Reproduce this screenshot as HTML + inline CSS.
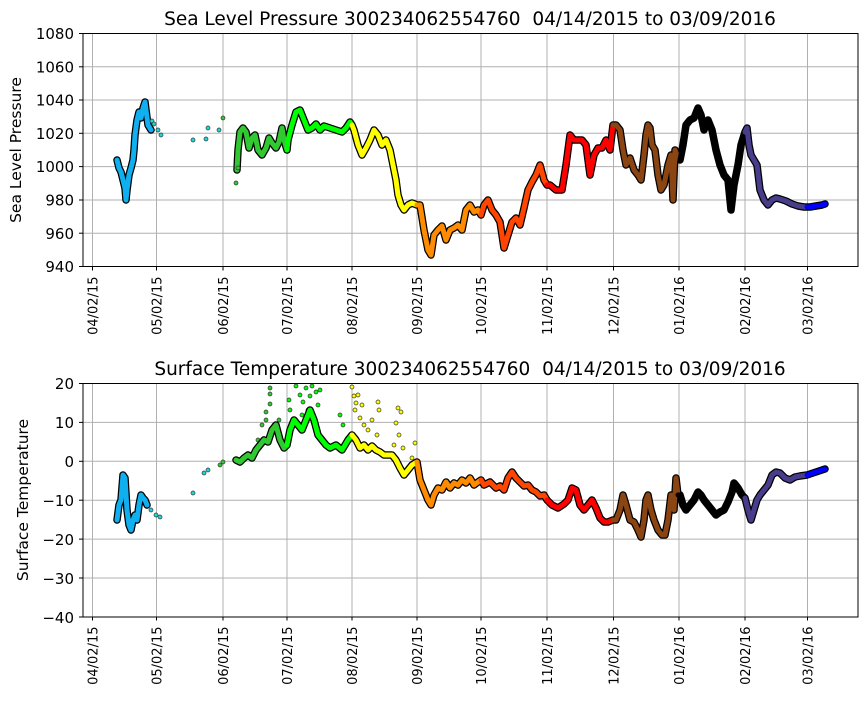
<!DOCTYPE html>
<html><head><meta charset="utf-8"><style>
html,body{margin:0;padding:0;background:#fff;}
svg text{font-family:"DejaVu Sans","Liberation Sans",sans-serif;fill:#000;}
</style></head><body>
<svg width="867" height="700" viewBox="0 0 867 700" xmlns="http://www.w3.org/2000/svg">
<defs>
<g id="vgrid" stroke="#b0b0b0" stroke-width="1">
<line x1="92.5" x2="92.5" y1="0" y2="233"/><line x1="156.5" x2="156.5" y1="0" y2="233"/><line x1="223" x2="223" y1="0" y2="233"/><line x1="287" x2="287" y1="0" y2="233"/><line x1="352" x2="352" y1="0" y2="233"/><line x1="417" x2="417" y1="0" y2="233"/><line x1="481" x2="481" y1="0" y2="233"/><line x1="547" x2="547" y1="0" y2="233"/><line x1="613.5" x2="613.5" y1="0" y2="233"/><line x1="679" x2="679" y1="0" y2="233"/><line x1="745" x2="745" y1="0" y2="233"/><line x1="807.5" x2="807.5" y1="0" y2="233"/>
</g>
<g id="xt" font-size="13">
<g stroke="#000"><line x1="92.5" x2="92.5" y1="233" y2="237"/><line x1="156.5" x2="156.5" y1="233" y2="237"/><line x1="223" x2="223" y1="233" y2="237"/><line x1="287" x2="287" y1="233" y2="237"/><line x1="352" x2="352" y1="233" y2="237"/><line x1="417" x2="417" y1="233" y2="237"/><line x1="481" x2="481" y1="233" y2="237"/><line x1="547" x2="547" y1="233" y2="237"/><line x1="613.5" x2="613.5" y1="233" y2="237"/><line x1="679" x2="679" y1="233" y2="237"/><line x1="745" x2="745" y1="233" y2="237"/><line x1="807.5" x2="807.5" y1="233" y2="237"/></g>
<text transform="translate(97.5,243) rotate(-90)" text-anchor="end">04/02/15</text>
<text transform="translate(161.5,243) rotate(-90)" text-anchor="end">05/02/15</text>
<text transform="translate(228,243) rotate(-90)" text-anchor="end">06/02/15</text>
<text transform="translate(292,243) rotate(-90)" text-anchor="end">07/02/15</text>
<text transform="translate(357,243) rotate(-90)" text-anchor="end">08/02/15</text>
<text transform="translate(422,243) rotate(-90)" text-anchor="end">09/02/15</text>
<text transform="translate(486,243) rotate(-90)" text-anchor="end">10/02/15</text>
<text transform="translate(552,243) rotate(-90)" text-anchor="end">11/02/15</text>
<text transform="translate(618.5,243) rotate(-90)" text-anchor="end">12/02/15</text>
<text transform="translate(684,243) rotate(-90)" text-anchor="end">01/02/16</text>
<text transform="translate(750,243) rotate(-90)" text-anchor="end">02/02/16</text>
<text transform="translate(812.5,243) rotate(-90)" text-anchor="end">03/02/16</text>
</g>
</defs>

<!-- TOP -->
<text x="470" y="25" font-size="18.5" text-anchor="middle">Sea Level Pressure 300234062554760&#160; 04/14/2015 to 03/09/2016</text>
<g transform="translate(0,33.5)"><use href="#vgrid"/></g>
<g stroke="#b0b0b0" stroke-width="1">
<line x1="83" x2="858" y1="66.8" y2="66.8"/><line x1="83" x2="858" y1="100" y2="100"/><line x1="83" x2="858" y1="133.3" y2="133.3"/><line x1="83" x2="858" y1="166.6" y2="166.6"/><line x1="83" x2="858" y1="200" y2="200"/><line x1="83" x2="858" y1="233.2" y2="233.2"/>
</g>
<g font-size="15" text-anchor="end">
<text x="74" y="39">1080</text><text x="74" y="72.3">1060</text><text x="74" y="105.6">1040</text><text x="74" y="138.9">1020</text><text x="74" y="172.2">1000</text><text x="74" y="205.5">980</text><text x="74" y="238.8">960</text><text x="74" y="272">940</text>
</g>
<g stroke="#000"><line x1="79" x2="83" y1="33.5" y2="33.5"/><line x1="79" x2="83" y1="66.8" y2="66.8"/><line x1="79" x2="83" y1="100" y2="100"/><line x1="79" x2="83" y1="133.3" y2="133.3"/><line x1="79" x2="83" y1="166.6" y2="166.6"/><line x1="79" x2="83" y1="200" y2="200"/><line x1="79" x2="83" y1="233.2" y2="233.2"/><line x1="79" x2="83" y1="266.5" y2="266.5"/></g>
<text transform="translate(21,150) rotate(-90)" font-size="15.5" text-anchor="middle">Sea Level Pressure</text>
<g transform="translate(0,33.5)"><use href="#xt"/></g>

<g fill="none" stroke-linejoin="round" stroke-linecap="round">
<g stroke="#000" stroke-width="7.5">
<polyline points="117,160 119,168 121,172 123,180 125,188 126,200 127,190 129,175 131,168 133,160 134,150 135,135 137,120 139,112 141,118 143,108 145,102 146,110 148,125 151,130"/>
<polyline points="237,170 238,150 240,132 243,128 246,132 249,148 252,138 255,135 258,150 262,155 266,148 269,138 272,143 276,148 279,142 282,128 284,140 287,150 288,140 292,125 296,112 300,110 304,120 308,130 312,128 316,124 320,130 324,126 330,128 336,130 342,132 346,128 350,122 352,125 354,130 358,145 362,155 366,148 370,140 374,130 378,135 382,145 386,140 390,150 393,165 396,180 398,195 401,205 404,210 408,205 412,203 417,205 420,205 424,230 428,250 431,255 434,235 438,230 442,226 446,240 450,230 454,228 458,225 462,230 466,210 470,205 474,212 478,210 481,215 484,205 488,200 492,210 496,215 500,222 504,248 508,235 512,222 516,218 520,225 524,208 528,190 532,182 536,175 540,165 544,180 547,185 550,185 556,190 562,190 566,165 570,135 574,140 578,140 582,140 586,145 590,175 594,155 598,148 602,148 606,140 610,150 613,125 616,125 620,130 623,150 626,165 630,158 634,170 638,175 641,180 644,155 646,135 648,125 650,128 652,145 655,150 658,175 661,190 664,185 668,165 671,155 673,200 675,150 678,158 680,160 683,145 686,125 690,120 694,118 698,108 701,115 704,130 708,120 712,130 716,150 720,165 724,175 728,180 731,210 734,185 738,165 741,145 745,132 747,128 749,145 751,155 754,160 757,165 760,190 764,200 768,205 772,200 776,198 780,199 786,201 792,204 798,206 804,207 810,207 816,206 822,205 825,204"/>
</g>
<g stroke-width="5">
<polyline stroke="#10b0f0" points="117,160 119,168 121,172 123,180 125,188 126,200 127,190 129,175 131,168 133,160 134,150 135,135 137,120 139,112 141,118 143,108 145,102 146,110 148,125 151,130"/>
<polyline stroke="#32c832" points="237,170 238,150 240,132 243,128 246,132 249,148 252,138 255,135 258,150 262,155 266,148 269,138 272,143 276,148 279,142 282,128 284,140 287,150"/>
<polyline stroke="#00ff00" points="287,150 288,140 292,125 296,112 300,110 304,120 308,130 312,128 316,124 320,130 324,126 330,128 336,130 342,132 346,128 350,122 352,125"/>
<polyline stroke="#ffff00" points="352,125 354,130 358,145 362,155 366,148 370,140 374,130 378,135 382,145 386,140 390,150 393,165 396,180 398,195 401,205 404,210 408,205 412,203 417,205"/>
<polyline stroke="#ff8c00" points="417,205 420,205 424,230 428,250 431,255 434,235 438,230 442,226 446,240 450,230 454,228 458,225 462,230 466,210 470,205 474,212 478,210 481,215"/>
<polyline stroke="#ff4500" points="481,215 484,205 488,200 492,210 496,215 500,222 504,248 508,235 512,222 516,218 520,225 524,208 528,190 532,182 536,175 540,165 544,180 547,185"/>
<polyline stroke="#ff0000" points="547,185 550,185 556,190 562,190 566,165 570,135 574,140 578,140 582,140 586,145 590,175 594,155 598,148 602,148 606,140 610,150 613,125"/>
<polyline stroke="#8b4513" points="613,125 616,125 620,130 623,150 626,165 630,158 634,170 638,175 641,180 644,155 646,135 648,125 650,128 652,145 655,150 658,175 661,190 664,185 668,165 671,155 673,200 675,150 678,158 680,160"/>
<polyline stroke="#000" points="680,160 683,145 686,125 690,120 694,118 698,108 701,115 704,130 708,120 712,130 716,150 720,165 724,175 728,180 731,210 734,185 738,165 741,145 745,132"/>
<polyline stroke="#483d8b" points="745,132 747,128 749,145 751,155 754,160 757,165 760,190 764,200 768,205 772,200 776,198 780,199 786,201 792,204 798,206 804,207 807,207"/>
<polyline stroke="#0000ff" points="807,207 810,207 816,206 822,205 825,204"/>
</g>
</g>
<g stroke="#333" stroke-width="0.7" fill="#20d8d8">
<circle cx="152" cy="121" r="2"/><circle cx="154" cy="124" r="2"/><circle cx="158" cy="130" r="2"/><circle cx="161" cy="135" r="2"/><circle cx="193" cy="140" r="2"/><circle cx="206" cy="139" r="2"/><circle cx="208" cy="128" r="2"/><circle cx="219" cy="130" r="2"/>
<circle cx="223" cy="118" r="2" fill="#32c832"/><circle cx="236" cy="183" r="2" fill="#32c832"/><circle cx="238" cy="168" r="2" fill="#32c832"/>
</g>
<rect x="83" y="33.5" width="775" height="233" fill="none" stroke="#000" stroke-width="1"/>

<!-- BOTTOM -->
<text x="470" y="375" font-size="18.5" text-anchor="middle">Surface Temperature 300234062554760&#160; 04/14/2015 to 03/09/2016</text>
<g transform="translate(0,383.5)"><use href="#vgrid"/></g>
<g stroke="#b0b0b0" stroke-width="1">
<line x1="83" x2="858" y1="422.4" y2="422.4"/><line x1="83" x2="858" y1="461.3" y2="461.3"/><line x1="83" x2="858" y1="500.2" y2="500.2"/><line x1="83" x2="858" y1="539.1" y2="539.1"/><line x1="83" x2="858" y1="578" y2="578"/>
</g>
<g font-size="15" text-anchor="end">
<text x="74" y="389">20</text><text x="74" y="428">10</text><text x="74" y="467">0</text><text x="74" y="506">−10</text><text x="74" y="545">−20</text><text x="74" y="584">−30</text><text x="74" y="623">−40</text>
</g>
<g stroke="#000"><line x1="79" x2="83" y1="383.5" y2="383.5"/><line x1="79" x2="83" y1="422.4" y2="422.4"/><line x1="79" x2="83" y1="461.3" y2="461.3"/><line x1="79" x2="83" y1="500.2" y2="500.2"/><line x1="79" x2="83" y1="539.1" y2="539.1"/><line x1="79" x2="83" y1="578" y2="578"/><line x1="79" x2="83" y1="617" y2="617"/></g>
<text transform="translate(28,500) rotate(-90)" font-size="15.5" text-anchor="middle">Surface Temperature</text>
<g transform="translate(0,383.5)"><use href="#xt"/></g>

<g stroke="#333" stroke-width="0.7">
<g fill="#32c832"><circle cx="270" cy="388" r="2"/><circle cx="270" cy="394" r="2"/><circle cx="270" cy="404" r="2"/><circle cx="266" cy="412" r="2"/><circle cx="266" cy="420" r="2"/><circle cx="262" cy="425" r="2"/><circle cx="279" cy="420" r="2"/><circle cx="274" cy="425" r="2"/><circle cx="258" cy="440" r="2"/></g>
<g fill="#00ff00"><circle cx="289" cy="400" r="2"/><circle cx="290" cy="410" r="2"/><circle cx="296" cy="386" r="2"/><circle cx="300" cy="395" r="2"/><circle cx="303" cy="402" r="2"/><circle cx="306" cy="388" r="2"/><circle cx="310" cy="396" r="2"/><circle cx="312" cy="386" r="2"/><circle cx="316" cy="392" r="2"/><circle cx="318" cy="405" r="2"/><circle cx="302" cy="415" r="2"/><circle cx="308" cy="410" r="2"/><circle cx="320" cy="390" r="2"/><circle cx="314" cy="420" r="2"/><circle cx="340" cy="415" r="2"/><circle cx="343" cy="425" r="2"/></g>
<g fill="#ffff00"><circle cx="352" cy="387" r="2"/><circle cx="354" cy="396" r="2"/><circle cx="356" cy="403" r="2"/><circle cx="358" cy="395" r="2"/><circle cx="355" cy="410" r="2"/><circle cx="360" cy="418" r="2"/><circle cx="362" cy="405" r="2"/><circle cx="364" cy="425" r="2"/><circle cx="368" cy="430" r="2"/><circle cx="372" cy="420" r="2"/><circle cx="378" cy="402" r="2"/><circle cx="379" cy="410" r="2"/><circle cx="377" cy="435" r="2"/><circle cx="398" cy="408" r="2"/><circle cx="401" cy="412" r="2"/><circle cx="396" cy="423" r="2"/><circle cx="399" cy="435" r="2"/><circle cx="394" cy="445" r="2"/><circle cx="403" cy="448" r="2"/><circle cx="415" cy="443" r="2"/><circle cx="412" cy="458" r="2"/></g>
<g fill="#20d8d8"><circle cx="151" cy="510" r="2"/><circle cx="156" cy="515" r="2"/><circle cx="160" cy="517" r="2"/><circle cx="193" cy="493" r="2"/><circle cx="204" cy="473" r="2"/><circle cx="208" cy="470" r="2"/></g>
<g fill="#32c832"><circle cx="220" cy="465" r="2"/><circle cx="223" cy="462" r="2"/></g>
</g>

<g fill="none" stroke-linejoin="round" stroke-linecap="round">
<g stroke="#000" stroke-width="7.5">
<polyline points="117,520 119,505 121,500 123,475 125,478 127,510 129,525 131,530 133,520 135,515 137,520 139,505 141,495 143,498 145,500 147,505"/>
<polyline points="236,460 240,462 244,458 248,455 252,458 256,450 260,445 264,440 268,442 272,430 276,425 280,440 284,448 287,445 290,430 294,420 298,425 302,430 306,420 310,410 314,420 318,435 322,440 326,445 330,448 336,445 342,450 348,440 352,435 356,440 360,448 364,445 368,450 372,446 376,450 380,452 384,455 388,455 392,455 396,460 400,468 404,475 408,470 412,465 417,462 420,480 424,490 428,500 431,505 434,495 438,488 442,490 446,482 450,488 454,483 458,485 462,480 466,483 470,478 474,485 478,482 481,480 484,485 490,482 496,488 500,486 504,490 508,478 512,472 516,478 520,482 524,486 528,485 532,490 536,492 540,496 544,495 547,500 552,505 558,508 564,504 568,500 572,488 576,490 580,505 584,510 588,505 592,500 596,508 600,518 604,522 608,522 613,520 616,520 620,510 623,495 626,505 630,520 634,522 638,530 641,537 644,520 646,500 648,495 651,510 654,520 658,530 662,535 665,535 668,520 671,495 674,510 676,478 678,495 680,495 683,505 686,510 690,505 694,500 698,492 701,495 704,500 708,505 712,510 716,515 720,512 724,510 728,502 732,492 734,483 738,488 742,495 745,498 748,510 751,520 754,510 757,500 760,495 764,490 768,485 772,475 776,472 780,473 785,478 790,480 795,477 800,476 807,475 810,474 816,472 822,470 825,469"/>
</g>
<g stroke-width="5">
<polyline stroke="#10b0f0" points="117,520 119,505 121,500 123,475 125,478 127,510 129,525 131,530 133,520 135,515 137,520 139,505 141,495 143,498 145,500 147,505"/>
<polyline stroke="#32c832" points="236,460 240,462 244,458 248,455 252,458 256,450 260,445 264,440 268,442 272,430 276,425 280,440 284,448 287,445"/>
<polyline stroke="#00ff00" points="287,445 290,430 294,420 298,425 302,430 306,420 310,410 314,420 318,435 322,440 326,445 330,448 336,445 342,450 348,440 352,435"/>
<polyline stroke="#ffff00" points="352,435 356,440 360,448 364,445 368,450 372,446 376,450 380,452 384,455 388,455 392,455 396,460 400,468 404,475 408,470 412,465 417,462"/>
<polyline stroke="#ff8c00" points="417,462 420,480 424,490 428,500 431,505 434,495 438,488 442,490 446,482 450,488 454,483 458,485 462,480 466,483 470,478 474,485 478,482 481,480"/>
<polyline stroke="#ff4500" points="481,480 484,485 490,482 496,488 500,486 504,490 508,478 512,472 516,478 520,482 524,486 528,485 532,490 536,492 540,496 544,495 547,500"/>
<polyline stroke="#ff0000" points="547,500 552,505 558,508 564,504 568,500 572,488 576,490 580,505 584,510 588,505 592,500 596,508 600,518 604,522 608,522 613,520"/>
<polyline stroke="#8b4513" points="613,520 616,520 620,510 623,495 626,505 630,520 634,522 638,530 641,537 644,520 646,500 648,495 651,510 654,520 658,530 662,535 665,535 668,520 671,495 674,510 676,478 678,495"/>
<polyline stroke="#000" points="678,495 680,495 683,505 686,510 690,505 694,500 698,492 701,495 704,500 708,505 712,510 716,515 720,512 724,510 728,502 732,492 734,483 738,488 742,495 745,498"/>
<polyline stroke="#483d8b" points="745,498 748,510 751,520 754,510 757,500 760,495 764,490 768,485 772,475 776,472 780,473 785,478 790,480 795,477 800,476 807,475"/>
<polyline stroke="#0000ff" points="807,475 810,474 816,472 822,470 825,469"/>
</g>
</g>
<rect x="83" y="383.5" width="775" height="233.5" fill="none" stroke="#000" stroke-width="1"/>
</svg>
</body></html>
